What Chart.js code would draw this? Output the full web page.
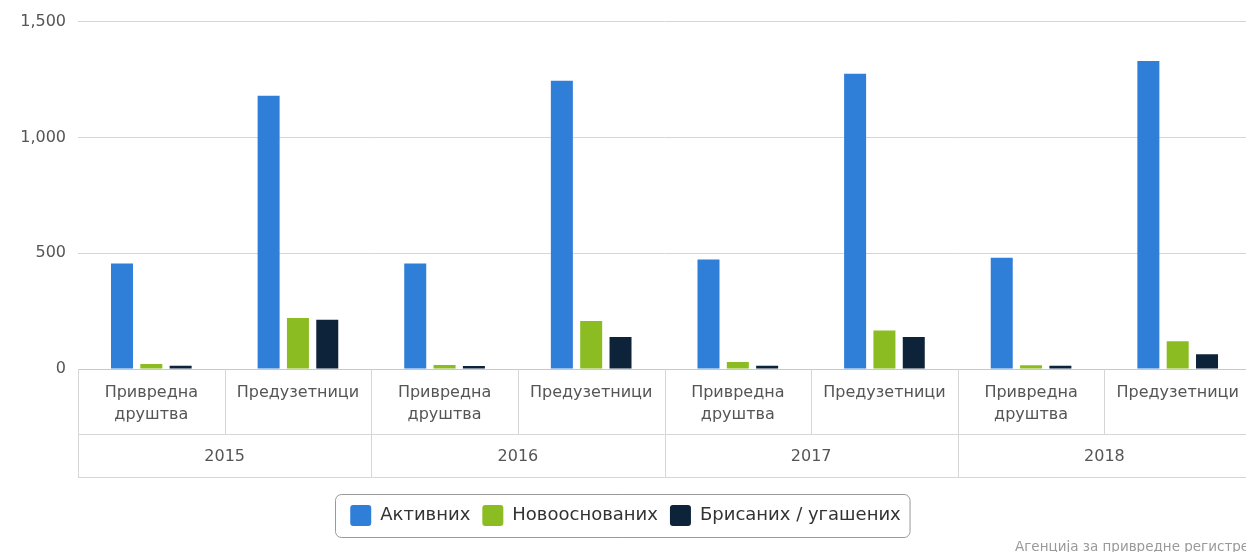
<!DOCTYPE html>
<html>
<head>
<meta charset="utf-8">
<script src="https://cdn.jsdelivr.net/npm/chart.js@4.4.0/dist/chart.umd.min.js"></script>
<style>
  html, body { margin: 0; padding: 0; background: #fff; overflow: hidden; }
  #wrap { width: 1258px; height: 552px; }
</style>
</head>
<body>
<div id="wrap"><canvas id="grafica"></canvas></div>
<script>
const years = ['2015', '2016', '2017', '2018'];
const categories = [
  ['Привредна', 'друштва'], 'Предузетници',
  ['Привредна', 'друштва'], 'Предузетници',
  ['Привредна', 'друштва'], 'Предузетници',
  ['Привредна', 'друштва'], 'Предузетници',
];
const aktivnih = [455, 1180, 455, 1245, 473, 1275, 480, 1330];
const novoosnovanih = [22, 220, 17, 207, 30, 166, 16, 120];
const brisanih = [14, 213, 13, 138, 14, 138, 14, 64];
const yTicks = [0, 500, 1000, 1500];

const FONT = 'DejaVu Sans';
const lineColor = '#d6d6d6';

// table-like x axis: cells for categories and a second row for years
const tablePlugin = {
  id: 'tableAxis',
  afterDraw(chart) {
    const { ctx } = chart;
    const x = chart.scales.x;
    const top = x.top;
    const row1 = top + 65;
    const row2 = top + 108;
    const n = categories.length;
    const edges = [x.left];
    for (let i = 0; i < n - 1; i += 1) {
      edges.push((x.getPixelForTick(i) + x.getPixelForTick(i + 1)) / 2);
    }
    edges.push(x.right);
    ctx.save();
    ctx.strokeStyle = lineColor;
    ctx.lineWidth = 1;
    ctx.beginPath();
    edges.forEach((ex, i) => {
      const px = Math.round(ex) + 0.5;
      ctx.moveTo(px, top);
      ctx.lineTo(px, i % 2 === 0 ? row2 : row1);
    });
    ctx.moveTo(x.left, row1 + 0.5);
    ctx.lineTo(x.right, row1 + 0.5);
    ctx.moveTo(x.left, row2 + 0.5);
    ctx.lineTo(x.right, row2 + 0.5);
    ctx.stroke();

    ctx.fillStyle = '#555';
    ctx.font = `16px "${FONT}"`;
    ctx.textAlign = 'center';
    ctx.textBaseline = 'middle';
    years.forEach((yr, i) => {
      const cx = (edges[i * 2] + edges[i * 2 + 2]) / 2;
      ctx.fillText(yr, cx, (row1 + row2) / 2 + 1);
    });

    // legend border
    const boxes = chart.legend.legendHitBoxes;
    if (boxes && boxes.length) {
      const l = Math.min(...boxes.map((b) => b.left)) - 15;
      const r = Math.max(...boxes.map((b) => b.left + b.width)) + 9;
      const t = boxes[0].top - 11;
      const h = boxes[0].height + 22;
      ctx.strokeStyle = '#999';
      ctx.beginPath();
      ctx.roundRect(Math.round(l) + 0.5, Math.round(t) + 0.5, r - l, h, 6);
      ctx.stroke();
    }

    // credits
    ctx.fillStyle = '#999';
    ctx.font = `13.5px "${FONT}"`;
    ctx.textAlign = 'left';
    ctx.fillText('Агенција за привредне регистре', 1015, 547);
    ctx.restore();
  },
};

const $grafica = document.querySelector('#grafica');
// eslint-disable-next-line no-new, no-undef
new Chart($grafica, {
  type: 'bar',
  data: {
    labels: categories,
    datasets: [
      { label: 'Активних', data: aktivnih, backgroundColor: '#2f7ed8' },
      { label: 'Новооснованих', data: novoosnovanih, backgroundColor: '#8bbc21' },
      { label: 'Брисаних / угашених', data: brisanih, backgroundColor: '#0d233a' },
    ],
  },
  options: {
    responsive: true,
    maintainAspectRatio: false,
    animation: false,
    categoryPercentage: 0.6,
    barPercentage: 0.75,
    layout: { padding: { top: 20, right: 7, bottom: 16, left: 0 } },
    plugins: {
      tooltip: { enabled: false },
      legend: {
        position: 'bottom',
        labels: {
          font: { family: FONT, size: 18 },
          color: '#333',
          boxWidth: 21,
          boxHeight: 21,
          useBorderRadius: true,
          borderRadius: 3,
          padding: 12,
        },
      },
    },
    scales: {
      x: {
        grid: { display: false },
        border: { display: true, color: '#c8c8c8' },
        ticks: {
          color: '#555',
          font: { family: FONT, size: 16, lineHeight: 1.375 },
          padding: 5,
          maxRotation: 0,
          autoSkip: false,
        },
        afterFit(scale) { scale.height = 124; },
      },
      y: {
        min: 0,
        max: 1500,
        afterBuildTicks(scale) { scale.ticks = yTicks.map((v) => ({ value: v })); },
        grid: { color: lineColor, drawTicks: false },
        border: { display: false },
        ticks: {
          color: '#555',
          font: { family: FONT, size: 16 },
          padding: 12,
        },
        afterFit(scale) { scale.width = 78; },
      },
    },
  },
  plugins: [tablePlugin],
});
</script>
</body>
</html>
